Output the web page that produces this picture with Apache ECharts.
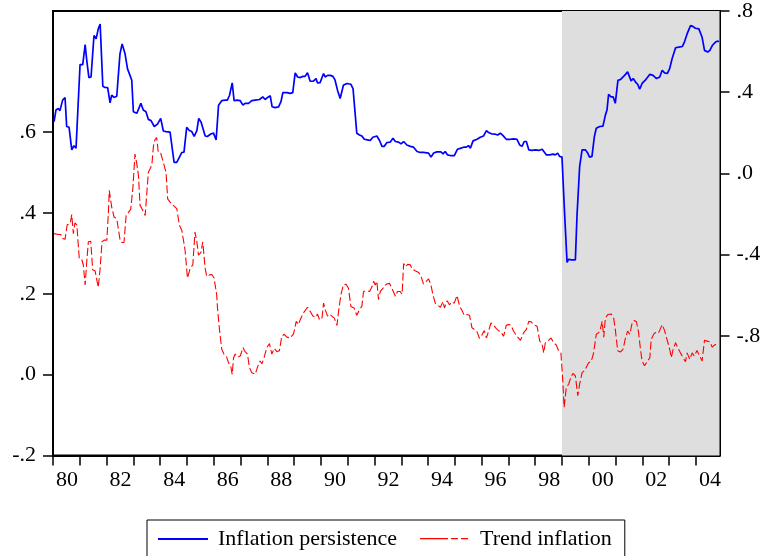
<!DOCTYPE html>
<html>
<head>
<meta charset="utf-8">
<script src="https://cdn.jsdelivr.net/npm/echarts@6/dist/echarts.min.js"></script>
<style>
  html, body { margin: 0; padding: 0; background: #fff; }
  #chart { width: 767px; height: 556px; }
</style>
</head>
<body>
<div id="chart"></div>
<script>
// Inflation persistence (right scale), [year, value]
const persistence = [
  [1980.04,0.255],[1980.11,0.312],[1980.20,0.320],[1980.26,0.309],[1980.36,0.361],[1980.45,0.373],[1980.51,0.231],[1980.60,0.227],[1980.70,0.116],[1980.78,0.136],[1980.86,0.124],
  [1981.01,0.536],[1981.11,0.536],[1981.20,0.634],[1981.26,0.557],[1981.34,0.472],[1981.42,0.475],[1981.53,0.679],[1981.61,0.663],[1981.69,0.712],[1981.76,0.736],[1981.86,0.429],[1981.94,0.423],
  [1982.04,0.422],[1982.13,0.348],[1982.19,0.385],[1982.28,0.374],[1982.38,0.380],[1982.50,0.589],[1982.58,0.638],[1982.69,0.589],[1982.78,0.516],[1982.85,0.524],[1982.94,0.459],
  [1983.00,0.304],[1983.13,0.296],[1983.19,0.291],[1983.28,0.345],[1983.37,0.312],[1983.47,0.304],[1983.56,0.266],[1983.66,0.260],[1983.78,0.231],[1983.90,0.243],
  [1984.02,0.271],[1984.12,0.209],[1984.22,0.206],[1984.37,0.203],[1984.43,0.206],[1984.52,0.054],[1984.62,0.054],[1984.72,0.080],[1984.81,0.103],[1984.89,0.105],[1984.99,0.227],
  [1985.09,0.211],[1985.18,0.206],[1985.27,0.182],[1985.37,0.211],[1985.44,0.271],[1985.53,0.252],[1985.59,0.260],[1985.68,0.184],[1985.76,0.182],[1985.89,0.194],[1985.99,0.198],
  [1986.09,0.165],[1986.18,0.336],[1986.30,0.358],[1986.43,0.361],[1986.51,0.361],[1986.59,0.385],[1986.69,0.446],[1986.76,0.358],[1986.86,0.361],[1986.99,0.358],
  [1987.09,0.336],[1987.17,0.345],[1987.30,0.345],[1987.42,0.358],[1987.55,0.361],[1987.71,0.364],[1987.83,0.377],[1987.92,0.364],
  [1988.01,0.374],[1988.11,0.382],[1988.18,0.328],[1988.29,0.324],[1988.42,0.328],[1988.51,0.353],[1988.58,0.398],[1988.73,0.398],[1988.85,0.394],[1988.95,0.398],
  [1989.04,0.495],[1989.13,0.475],[1989.23,0.472],[1989.33,0.478],[1989.41,0.478],[1989.50,0.496],[1989.60,0.454],[1989.72,0.454],[1989.82,0.467],[1989.87,0.446],[1989.97,0.447],
  [1990.04,0.446],[1990.10,0.492],[1990.16,0.475],[1990.25,0.483],[1990.35,0.483],[1990.45,0.478],[1990.53,0.459],[1990.62,0.410],[1990.72,0.369],[1990.78,0.374],[1990.84,0.434],[1990.97,0.443],
  [1991.12,0.439],[1991.20,0.418],[1991.26,0.410],[1991.34,0.198],[1991.44,0.189],[1991.53,0.184],[1991.62,0.168],[1991.74,0.165],[1991.84,0.162],[1991.94,0.178],
  [1992.00,0.170],[1992.09,0.184],[1992.19,0.162],[1992.28,0.133],[1992.36,0.133],[1992.47,0.152],[1992.59,0.154],[1992.69,0.173],[1992.78,0.157],[1992.90,0.154],[1992.99,0.145],
  [1993.09,0.157],[1993.21,0.140],[1993.34,0.133],[1993.46,0.129],[1993.59,0.108],[1993.71,0.103],[1993.83,0.103],
  [1994.02,0.100],[1994.11,0.080],[1994.21,0.100],[1994.33,0.106],[1994.48,0.106],[1994.56,0.096],[1994.64,0.108],[1994.73,0.091],[1994.86,0.087],[1994.98,0.087],
  [1995.10,0.119],[1995.20,0.123],[1995.33,0.129],[1995.43,0.129],[1995.51,0.137],[1995.58,0.124],[1995.68,0.160],[1995.83,0.168],[1995.95,0.178],
  [1996.07,0.184],[1996.18,0.211],[1996.26,0.201],[1996.39,0.194],[1996.51,0.193],[1996.60,0.189],[1996.70,0.198],[1996.80,0.186],[1996.92,0.168],
  [1997.07,0.168],[1997.19,0.170],[1997.32,0.168],[1997.42,0.140],[1997.51,0.133],[1997.59,0.157],[1997.67,0.157],[1997.76,0.116],[1997.88,0.113],
  [1998.01,0.116],[1998.13,0.113],[1998.26,0.119],[1998.32,0.119],[1998.42,0.091],[1998.54,0.091],[1998.67,0.095],[1998.75,0.091],[1998.84,0.100],[1998.91,0.084],
  [1999.00,0.080],[1999.09,-0.178],[1999.19,-0.439],[1999.25,-0.423],[1999.34,-0.426],[1999.50,-0.426],[1999.56,-0.210],[1999.66,0.035],[1999.75,0.116],[1999.87,0.116],[1999.96,0.100],
  [2000.03,0.080],[2000.12,0.084],[2000.21,0.182],[2000.28,0.222],[2000.41,0.231],[2000.53,0.233],[2000.62,0.287],[2000.68,0.312],[2000.74,0.390],[2000.83,0.377],[2000.91,0.377],[2000.99,0.345],
  [2001.09,0.459],[2001.18,0.462],[2001.28,0.475],[2001.37,0.488],[2001.45,0.500],[2001.52,0.495],[2001.58,0.456],[2001.66,0.467],[2001.74,0.451],[2001.83,0.438],[2001.90,0.415],[2001.99,0.443],
  [2002.11,0.459],[2002.28,0.488],[2002.40,0.483],[2002.53,0.467],[2002.65,0.475],[2002.74,0.508],[2002.83,0.495],[2002.93,0.492],
  [2003.02,0.516],[2003.11,0.565],[2003.24,0.619],[2003.36,0.622],[2003.49,0.625],[2003.57,0.647],[2003.67,0.687],[2003.80,0.728],[2003.90,0.723],[2003.98,0.715],
  [2004.11,0.712],[2004.23,0.671],[2004.32,0.606],[2004.44,0.598],[2004.52,0.606],[2004.61,0.630],[2004.73,0.647],[2004.82,0.652],[2004.85,0.647]
];

// Trend inflation (left scale), [year, value]
const trend = [
  [1980.04,0.349],[1980.20,0.347],[1980.29,0.347],[1980.36,0.337],[1980.45,0.335],[1980.53,0.371],[1980.64,0.374],[1980.70,0.396],[1980.76,0.349],[1980.82,0.376],[1980.89,0.370],[1980.98,0.288],
  [1981.07,0.286],[1981.13,0.272],[1981.20,0.222],[1981.26,0.280],[1981.32,0.329],[1981.41,0.330],[1981.48,0.259],[1981.57,0.257],[1981.63,0.255],[1981.69,0.216],[1981.76,0.263],[1981.83,0.329],[1981.91,0.333],
  [1982.01,0.333],[1982.07,0.404],[1982.10,0.456],[1982.19,0.415],[1982.28,0.390],[1982.38,0.386],[1982.44,0.386],[1982.50,0.335],[1982.57,0.327],[1982.65,0.327],[1982.73,0.394],[1982.81,0.401],[1982.90,0.409],[1982.98,0.460],
  [1983.06,0.546],[1983.13,0.521],[1983.19,0.493],[1983.25,0.419],[1983.35,0.407],[1983.44,0.394],[1983.50,0.394],[1983.56,0.501],[1983.62,0.509],[1983.69,0.519],[1983.75,0.566],[1983.81,0.582],[1983.87,0.587],[1983.93,0.550],
  [1984.02,0.548],[1984.12,0.525],[1984.22,0.501],[1984.28,0.435],[1984.37,0.427],[1984.49,0.419],[1984.62,0.411],[1984.72,0.370],[1984.81,0.357],[1984.87,0.361],[1984.93,0.308],
  [1985.02,0.239],[1985.12,0.263],[1985.22,0.272],[1985.30,0.353],[1985.37,0.329],[1985.43,0.296],[1985.52,0.302],[1985.59,0.329],[1985.68,0.263],[1985.74,0.243],[1985.84,0.247],[1985.93,0.248],
  [1986.01,0.240],[1986.11,0.198],[1986.14,0.165],[1986.22,0.108],[1986.30,0.063],[1986.38,0.051],[1986.48,0.044],[1986.55,0.030],[1986.64,0.019],[1986.69,0.001],[1986.74,0.042],[1986.80,0.051],[1986.88,0.044],[1986.99,0.046],
  [1987.09,0.067],[1987.17,0.057],[1987.26,0.051],[1987.33,0.018],[1987.42,0.005],[1987.55,0.001],[1987.63,0.018],[1987.73,0.034],[1987.80,0.027],[1987.88,0.042],[1987.98,0.067],
  [1988.08,0.077],[1988.17,0.051],[1988.26,0.065],[1988.36,0.057],[1988.45,0.059],[1988.54,0.095],[1988.63,0.100],[1988.73,0.093],[1988.85,0.091],[1988.98,0.101],
  [1989.08,0.132],[1989.16,0.124],[1989.25,0.139],[1989.35,0.153],[1989.41,0.154],[1989.50,0.167],[1989.60,0.157],[1989.70,0.145],[1989.82,0.142],[1989.87,0.150],[1989.95,0.136],
  [1990.04,0.139],[1990.10,0.177],[1990.16,0.161],[1990.25,0.145],[1990.32,0.150],[1990.41,0.145],[1990.50,0.140],[1990.60,0.122],[1990.66,0.157],[1990.75,0.199],[1990.84,0.222],[1990.94,0.224],
  [1991.03,0.214],[1991.12,0.169],[1991.24,0.165],[1991.34,0.147],[1991.44,0.161],[1991.53,0.169],[1991.59,0.206],[1991.72,0.208],[1991.82,0.206],[1991.91,0.218],[1991.97,0.231],
  [1992.03,0.222],[1992.09,0.231],[1992.15,0.186],[1992.22,0.206],[1992.32,0.214],[1992.44,0.224],[1992.56,0.226],[1992.65,0.214],[1992.78,0.194],[1992.86,0.206],[1992.96,0.206],
  [1993.03,0.199],[1993.09,0.275],[1993.15,0.267],[1993.24,0.273],[1993.34,0.272],[1993.40,0.262],[1993.52,0.257],[1993.65,0.253],[1993.74,0.243],[1993.83,0.224],[1993.93,0.231],
  [1994.02,0.237],[1994.11,0.222],[1994.18,0.198],[1994.27,0.177],[1994.36,0.172],[1994.46,0.167],[1994.56,0.181],[1994.61,0.165],[1994.71,0.183],[1994.80,0.173],[1994.89,0.180],[1994.98,0.177],
  [1995.08,0.196],[1995.18,0.169],[1995.27,0.159],[1995.35,0.147],[1995.45,0.149],[1995.55,0.147],[1995.64,0.116],[1995.73,0.112],[1995.83,0.106],[1995.92,0.090],
  [1996.01,0.098],[1996.10,0.109],[1996.18,0.091],[1996.26,0.108],[1996.35,0.128],[1996.45,0.122],[1996.55,0.114],[1996.63,0.109],[1996.72,0.106],[1996.82,0.095],[1996.92,0.122],
  [1997.01,0.124],[1997.10,0.122],[1997.19,0.108],[1997.32,0.095],[1997.45,0.085],[1997.57,0.104],[1997.67,0.112],[1997.76,0.132],[1997.84,0.131],[1997.94,0.124],
  [1998.07,0.120],[1998.17,0.083],[1998.26,0.075],[1998.32,0.054],[1998.38,0.079],[1998.50,0.085],[1998.59,0.091],[1998.69,0.079],[1998.79,0.073],[1998.87,0.060],[1998.96,0.054],
  [1999.03,-0.015],[1999.08,-0.081],[1999.16,-0.032],[1999.25,-0.023],[1999.34,-0.005],[1999.41,0.003],[1999.50,-0.003],[1999.59,-0.052],[1999.66,-0.023],[1999.75,0.005],[1999.84,0.010],[1999.91,0.011],
  [2000.00,0.030],[2000.09,0.032],[2000.18,0.054],[2000.28,0.100],[2000.37,0.104],[2000.43,0.112],[2000.50,0.132],[2000.56,0.093],[2000.62,0.140],[2000.71,0.149],[2000.78,0.147],[2000.84,0.150],[2000.93,0.140],[2000.99,0.112],
  [2001.08,0.059],[2001.18,0.056],[2001.28,0.063],[2001.37,0.091],[2001.45,0.108],[2001.53,0.100],[2001.62,0.128],[2001.70,0.134],[2001.78,0.131],[2001.86,0.104],[2001.93,0.063],[2001.99,0.034],
  [2002.08,0.022],[2002.18,0.032],[2002.28,0.042],[2002.33,0.087],[2002.43,0.101],[2002.53,0.106],[2002.61,0.104],[2002.74,0.124],[2002.83,0.109],[2002.93,0.085],
  [2003.02,0.063],[2003.08,0.042],[2003.15,0.063],[2003.24,0.079],[2003.32,0.067],[2003.42,0.054],[2003.52,0.042],[2003.61,0.032],[2003.67,0.054],[2003.77,0.038],[2003.86,0.054],[2003.94,0.046],
  [2004.04,0.060],[2004.14,0.046],[2004.23,0.034],[2004.32,0.085],[2004.42,0.083],[2004.52,0.081],[2004.61,0.068],[2004.69,0.073],[2004.79,0.077],[2004.85,0.077]
];

// Axis ticks and labels
const yearTicks = [1980,1981,1982,1983,1984,1985,1986,1987,1988,1989,1990,1991,1992,1993,1994,1995,1996,1997,1998,1999,2000,2001,2002,2003,2004];
const yearLabels = [1980,1982,1984,1986,1988,1990,1992,1994,1996,1998,2000,2002,2004];
const leftTicks = [-0.2, 0, 0.2, 0.4, 0.6];
const rightTicks = [-0.8, -0.4, 0, 0.4, 0.8];

// Shaded period
const shadeStart = 1999.0;
const sampleEnd = 2004.88;

const seriesNames = ['Inflation persistence', 'Trend inflation'];

const serif = "'Liberation Serif', 'Times New Roman', serif";

function decimalLabel(v) {
  const r = Math.round(v * 10) / 10;
  if (r === 0) return '.0';
  const s = Math.abs(r).toFixed(1).replace(/^0/, '');
  return (r < 0 ? '-' : '') + s;
}

const chart = echarts.init(document.getElementById('chart'), null, { renderer: 'canvas' });

chart.setOption({
  animation: false,
  backgroundColor: '#ffffff',
  grid: {
    left: 53, top: 7, width: 666.5, height: 448.5,
    show: true, borderColor: '#000', borderWidth: 2, backgroundColor: 'transparent'
  },
  legend: {
    left: 147, top: 520,
    orient: 'horizontal',
    padding: [7, 13, 7, 11],
    borderColor: '#000', borderWidth: 1,
    itemGap: 23,
    itemWidth: 55, itemHeight: 2,
    itemStyle: { borderWidth: 0 },
    textStyle: { fontFamily: serif, fontSize: 22, color: '#000', lineHeight: 24 },
    data: [
      { name: seriesNames[0], icon: 'path://M0,0h50v2h-50zM55,1' },
      { name: seriesNames[1], icon: 'path://M0,0h28v1.2h-28zM31,0h7v1.2h-7zM41,0h7v1.2h-7zM55,2' }
    ]
  },
  xAxis: {
    type: 'value',
    min: 1980, max: sampleEnd,
    splitLine: { show: false },
    axisLine: { onZero: false, lineStyle: { color: '#000', width: 2 } },
    axisTick: { customValues: yearTicks, length: 10, lineStyle: { color: '#000', width: 1.5 } },
    axisLabel: {
      customValues: yearLabels,
      formatter: v => String(Math.round(v) % 100).padStart(2, '0'),
      align: 'left',
      padding: [0, 0, 0, 3],
      margin: 14,
      fontFamily: serif, fontSize: 22, color: '#000'
    }
  },
  yAxis: [
    {
      type: 'value', position: 'left',
      min: -0.2, max: 0.9,
      splitLine: { show: false },
      axisLine: { show: true, onZero: false, lineStyle: { color: '#000', width: 2 } },
      axisTick: { show: true, customValues: leftTicks, length: 10, lineStyle: { color: '#000', width: 1.5 } },
      axisLabel: {
        customValues: leftTicks, formatter: decimalLabel, margin: 17,
        fontFamily: serif, fontSize: 22, color: '#000'
      }
    },
    {
      type: 'value', position: 'right',
      min: -1.39, max: 0.8,
      splitLine: { show: false },
      axisLine: { show: true, onZero: false, lineStyle: { color: '#000', width: 2 } },
      axisTick: { show: true, customValues: rightTicks, length: 10, lineStyle: { color: '#000', width: 1.5 } },
      axisLabel: {
        customValues: rightTicks, formatter: decimalLabel, margin: 17,
        fontFamily: serif, fontSize: 22, color: '#000'
      }
    }
  ],
  series: [
    {
      name: seriesNames[1],
      type: 'line',
      yAxisIndex: 0,
      data: trend,
      showSymbol: false,
      symbol: 'none',
      color: '#ff0000',
      lineStyle: { color: '#ff0000', width: 1.1, type: [8, 3] },
      z: 2,
      markArea: {
        silent: true,
        itemStyle: { color: '#dedede' },
        data: [[{ xAxis: shadeStart }, { xAxis: sampleEnd }]]
      }
    },
    {
      name: seriesNames[0],
      type: 'line',
      yAxisIndex: 1,
      data: persistence,
      showSymbol: false,
      symbol: 'none',
      color: '#0000ff',
      lineStyle: { color: '#0000ff', width: 1.7 },
      z: 3
    }
  ]
});
</script>
</body>
</html>
